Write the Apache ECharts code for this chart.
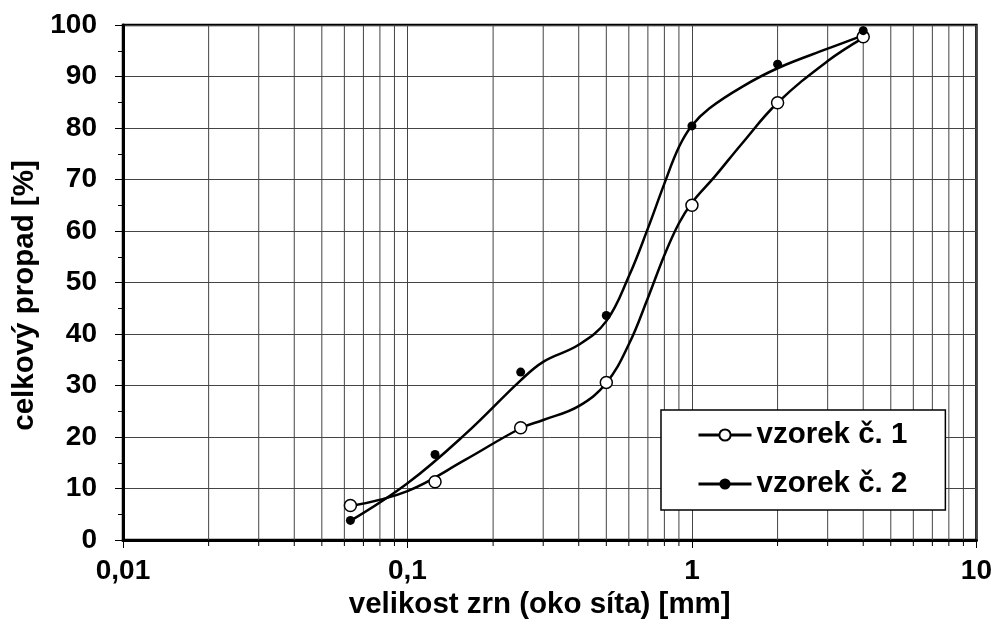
<!DOCTYPE html>
<html>
<head>
<meta charset="utf-8">
<script src="https://cdn.jsdelivr.net/npm/echarts@6/dist/echarts.min.js"></script>
<style>html,body{margin:0;padding:0;background:#fff;}#c{width:995px;height:625px;}</style>
</head>
<body>
<div id="c"></div>
<script>
// sieve sizes [mm]
const sieveSizes = [0.063, 0.125, 0.25, 0.5, 1, 2, 4];
// measured points
const sample1 = [6.7, 11.3, 21.8, 30.6, 65.0, 84.9, 97.7];
const sample2 = [3.8, 16.6, 32.6, 43.6, 80.4, 92.4, 98.9];
// smoothed grading curves
const curve1X = [0.063, 0.1, 0.16, 0.25, 0.3, 0.4, 0.5, 0.6, 0.7, 0.8, 0.9, 1, 1.2, 1.5, 2, 3, 4];
const curve1Y = [6.6, 9.5, 15.6, 21.7, 23.3, 26.0, 30.5, 38.0, 47.0, 55.3, 61.5, 65.5, 70.5, 77.0, 84.9, 93.0, 97.5];
const curve2X = [0.063, 0.1, 0.16, 0.25, 0.3, 0.4, 0.5, 0.6, 0.7, 0.8, 0.9, 1, 1.15, 1.5, 2, 3, 4];
const curve2Y = [3.7, 11.0, 20.6, 31.0, 34.6, 37.9, 42.5, 51.2, 60.5, 69.2, 76.3, 80.5, 83.8, 88.0, 91.6, 95.4, 98.0];
// axis ticks
const xMajorTicks = ['0,01', '0,1', '1', '10'];
const xMinorGrid = [0.02, 0.03, 0.04, 0.05, 0.06, 0.07, 0.08, 0.09,
                    0.2, 0.3, 0.4, 0.5, 0.6, 0.7, 0.8, 0.9,
                    2, 3, 4, 5, 6, 7, 8, 9];
const yTicks = [0, 10, 20, 30, 40, 50, 60, 70, 80, 90, 100];

const FONT = 'Liberation Sans, Arial, sans-serif';
const pairs = (xs, ys) => xs.map((x, i) => [x, ys[i]]);

const chart = echarts.init(document.getElementById('c'), null, {renderer: 'canvas'});
chart.setOption({
  animation: false,
  backgroundColor: '#fff',
  grid: {left: 123, right: 18, top: 25, bottom: 85, show: true, borderColor: '#000', borderWidth: 2.5, backgroundColor: 'transparent'},
  xAxis: {
    type: 'log', logBase: 10, min: 0.01, max: 10,
    name: 'velikost zrn (oko síta) [mm]', nameLocation: 'middle', nameGap: 50,
    nameTextStyle: {fontFamily: FONT, fontWeight: 'bold', fontSize: 29.5, color: '#000', padding: [0, 20, 0, 0]},
    axisLine: {show: true, lineStyle: {color: '#000', width: 3}},
    axisTick: {show: true, length: 8, lineStyle: {color: '#000', width: 1}},
    axisLabel: {
      margin: 17, fontFamily: FONT, fontWeight: 'bold', fontSize: 28, color: '#000',
      formatter: function (v) {
        const e = Math.round(Math.log10(v)) + 2;
        return xMajorTicks[e] !== undefined ? xMajorTicks[e] : '';
      }
    },
    splitLine: {show: true, lineStyle: {color: '#444', width: 1}}
  },
  yAxis: {
    type: 'value', min: 0, max: 100, interval: 10,
    name: 'celkový propad [%]', nameLocation: 'middle', nameGap: 78,
    nameTextStyle: {fontFamily: FONT, fontWeight: 'bold', fontSize: 29.5, color: '#000', padding: [0, 26, 0, 0]},
    axisLine: {show: true, lineStyle: {color: '#000', width: 3}},
    axisTick: {show: true, length: 8, lineStyle: {color: '#000', width: 1}},
    minorTick: {show: true, splitNumber: 2, length: 5, lineStyle: {color: '#000', width: 1}},
    axisLabel: {margin: 26, fontFamily: FONT, fontWeight: 'bold', fontSize: 28, color: '#000',
      formatter: function (v) { return yTicks.indexOf(v) >= 0 ? String(v) : ''; }},
    splitLine: {show: true, lineStyle: {color: '#444', width: 1}}
  },
  legend: {
    orient: 'vertical', left: 661, top: 410,
    padding: [10, 38, 11, 36], itemGap: 19, itemWidth: 53, itemHeight: 14,
    backgroundColor: '#fff', borderColor: '#000', borderWidth: 1.5,
    textStyle: {fontFamily: FONT, fontWeight: 'bold', fontSize: 29.5, color: '#000'},
    data: [
      {name: 'vzorek č. 1', lineStyle: {color: '#000', width: 3, opacity: 1}},
      {name: 'vzorek č. 2', lineStyle: {color: '#000', width: 3, opacity: 1}}
    ]
  },
  series: [
    {
      type: 'custom', name: 'minorGrid', silent: true, z: 1, clip: false,
      data: xMinorGrid.map(v => [v, 0]),
      encode: {x: 0, y: 1},
      renderItem: function (params, api) {
        const x = api.value(0);
        const top = api.coord([x, 100]);
        const bot = api.coord([x, 0]);
        return {type: 'group', children: [
          {type: 'line', shape: {x1: top[0], y1: top[1], x2: bot[0], y2: bot[1]}, style: {stroke: '#444', lineWidth: 1}},
          {type: 'line', shape: {x1: bot[0], y1: bot[1], x2: bot[0], y2: bot[1] + 6}, style: {stroke: '#000', lineWidth: 1}}
        ]};
      }
    },
    {
      type: 'line', name: 'curve1', data: pairs(curve1X, curve1Y), smooth: 0.4,
      showSymbol: false, symbol: 'none', z: 3, silent: true,
      lineStyle: {color: '#000', width: 2.5}
    },
    {
      type: 'line', name: 'curve2', data: pairs(curve2X, curve2Y), smooth: 0.4,
      showSymbol: false, symbol: 'none', z: 3, silent: true,
      lineStyle: {color: '#000', width: 2.5}
    },
    {
      type: 'line', name: 'vzorek č. 1', data: pairs(sieveSizes, sample1),
      symbol: 'circle', symbolSize: 12, z: 5,
      lineStyle: {opacity: 0, width: 0},
      itemStyle: {color: '#fff', borderColor: '#000', borderWidth: 1.5}
    },
    {
      type: 'line', name: 'vzorek č. 2', data: pairs(sieveSizes, sample2),
      symbol: 'circle', symbolSize: 9, z: 5,
      lineStyle: {opacity: 0, width: 0},
      itemStyle: {color: '#000', borderColor: '#000', borderWidth: 0}
    }
  ]
});
</script>
</body>
</html>
